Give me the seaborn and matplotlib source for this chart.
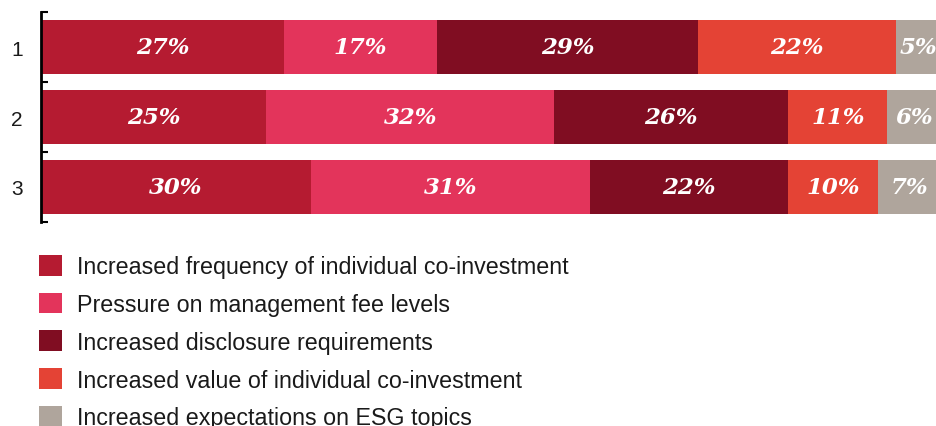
import matplotlib
matplotlib.use("Agg")
import matplotlib.pyplot as plt
import seaborn as sns
import pandas as pd
import numpy as np
from matplotlib.patches import Patch

categories = ["1", "2", "3"]
series_names = [
    "Increased frequency of individual co-investment",
    "Pressure on management fee levels",
    "Increased disclosure requirements",
    "Increased value of individual co-investment",
    "Increased expectations on ESG topics",
]
freq_coinvest = [27, 25, 30]
mgmt_fee = [17, 32, 31]
disclosure = [29, 26, 22]
value_coinvest = [22, 11, 10]
esg = [5, 6, 7]
colors = ["#B51B31", "#E3345B", "#800D22", "#E44335", "#AFA59C"]

series = [freq_coinvest, mgmt_fee, disclosure, value_coinvest, esg]

sns.set_theme(style="white")
plt.rcParams["font.family"] = ["Liberation Sans", "DejaVu Sans"]

fig = plt.figure(figsize=(9.36, 4.27), dpi=100)
ax = fig.add_axes([41 / 936, 1 - 223 / 427, 1 - 41 / 936, 210 / 427])

vals = np.array(series, dtype=float)
cum = np.cumsum(vals, axis=0)

# draw stacked bars from the outermost cumulative to the innermost
for i in range(len(series) - 1, -1, -1):
    df = pd.DataFrame({"cat": categories, "val": cum[i]})
    sns.barplot(data=df, x="val", y="cat", order=categories, orient="h",
                color=colors[i], saturation=1, width=0.76, ax=ax,
                edgecolor="none", linewidth=0)

for i in range(len(series)):
    for j, cat in enumerate(categories):
        center = cum[i][j] - vals[i][j] / 2
        ax.text(center, j, f"{int(vals[i][j])}%", ha="center", va="center",
                color="white", fontsize=16.5, fontweight="bold", fontstyle="italic",
                family=["DejaVu Serif"])

ax.set_xlim(0, 99.4)
ax.set_ylim(2.5, -0.5)
ax.set_xlabel("")
ax.set_ylabel("")
ax.set_xticks([])
for s in ["top", "right", "bottom"]:
    ax.spines[s].set_visible(False)
ax.spines["left"].set_color("black")
ax.spines["left"].set_linewidth(2)
ax.set_yticks([0, 1, 2])
ax.set_yticklabels(categories)
ax.set_yticks([-0.5, 0.5, 1.5, 2.5], minor=True)
ax.tick_params(axis="y", which="major", length=0, pad=13, labelsize=15, labelcolor="#1a1a1a")
ax.tick_params(axis="y", which="minor", direction="in", length=5, width=1.5, color="black", left=True)

handles = [Patch(facecolor=c, edgecolor="none") for c in colors]
fig.legend(handles, series_names, loc="upper left",
           bbox_to_anchor=(39 / 936, 1 - 256 / 427), frameon=False,
           fontsize=16.75, handlelength=0.99, handleheight=0.99,
           handletextpad=0.64, labelspacing=0.62, borderpad=0, borderaxespad=0,
           labelcolor="#1a1a1a")

fig.savefig("out.png", dpi=100)
